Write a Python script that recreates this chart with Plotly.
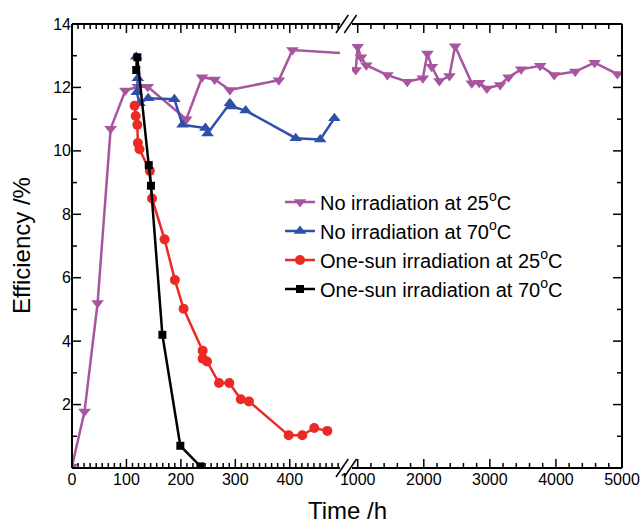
import plotly.graph_objects as go

# ---------------- data ----------------
t_no25 = [0, 23, 47, 71, 98, 121, 139, 210, 239, 262, 290, 380, 405,
          970, 1000, 1050, 1130, 1450, 1750, 1985, 2055, 2121, 2236, 2388,
          2474, 2727, 2838, 2955, 3156, 3282, 3474, 3762, 3974, 4292, 4585, 4930]
e_no25 = [0.05, 1.78, 5.2, 10.7, 11.9, 12.02, 12.02, 11.0, 12.32, 12.25, 11.92, 12.23, 13.18,
          12.55, 13.28, 12.95, 12.7, 12.39, 12.18, 12.29, 13.07, 12.65, 12.2, 12.36,
          13.3, 12.13, 12.15, 11.97, 12.08, 12.32, 12.57, 12.68, 12.39, 12.5, 12.78, 12.42]

t_no70 = [118, 121, 119, 124, 140, 188, 203, 245, 249, 290, 294, 319, 411, 456, 482]
e_no70 = [12.97, 12.29, 11.85, 11.5, 11.66, 11.63, 10.82, 10.72, 10.55, 11.5, 11.4, 11.27, 10.4, 10.36, 11.03]

t_sun25 = [115, 117, 120, 121, 124, 143, 147, 170, 189, 205, 240, 240, 248, 270, 289, 310, 325, 398, 423, 445, 469]
e_sun25 = [11.42, 11.1, 10.82, 10.25, 10.05, 9.37, 8.5, 7.21, 5.93, 5.02, 3.7, 3.45, 3.36, 2.68, 2.68, 2.17, 2.1, 1.03, 1.03, 1.26, 1.17]

t_sun70 = [118, 120, 141, 145, 166, 199, 236]
e_sun70 = [12.55, 12.95, 9.55, 8.9, 4.2, 0.7, 0.05]

names = ["No irradiation at 25<sup>o</sup>C", "No irradiation at 70<sup>o</sup>C",
         "One-sun irradiation at 25<sup>o</sup>C", "One-sun irradiation at 70<sup>o</sup>C"]

x_left_major = [0, 100, 200, 300, 400]
x_right_major = [1000, 2000, 3000, 4000, 5000]
y_ticks = [2, 4, 6, 8, 10, 12, 14]
y_minor = [1, 3, 5, 7, 9, 11, 13]

# ---------------- style ----------------
PURPLE = "#A8559F"
BLUE = "#2F50A8"
RED = "#EC2A25"
BLACK = "#000000"
FONT = "Liberation Sans"

W, H = 643, 529
ML, MR, MT, MB = 72, 21, 24, 61
PW = W - ML - MR
PH = H - MT - MB

def px(x):
    return (x - ML) / PW

def py(y):
    return (H - MB - y) / PH

d1 = px(340)
d2 = px(352)
left_range = [0, (340 - 71.7) / 0.545]
right_range = [1000 - (357.7 - 352) / 0.066, 5000]
y_range = [0, 14]

fig = go.Figure()

def add(t, e, name, color, symbol, size, axes, show):
    fig.add_trace(go.Scatter(
        x=t, y=e, name=name, mode="lines+markers",
        line=dict(color=color, width=2.5),
        marker=dict(symbol=symbol, size=size, color=color),
        xaxis=axes[0], yaxis=axes[1], showlegend=show,
    ))

add(t_no25, e_no25, names[0], PURPLE, "triangle-down", 11, ("x", "y"), True)
add(t_no25, e_no25, names[0], PURPLE, "triangle-down", 11, ("x2", "y2"), False)
add(t_no70, e_no70, names[1], BLUE, "triangle-up", 11, ("x", "y"), True)
add(t_sun25, e_sun25, names[2], RED, "circle", 10, ("x", "y"), True)
add(t_sun70, e_sun70, names[3], BLACK, "square", 8, ("x", "y"), True)

fig.update_layout(
    template="none",
    width=W, height=H,
    margin=dict(l=ML, r=MR, t=MT, b=MB, autoexpand=False),
    plot_bgcolor="white", paper_bgcolor="white",
    font=dict(family=FONT, color="black", size=16),
    xaxis=dict(domain=[0, d1], range=left_range, anchor="y",
               tickmode="array", tickvals=x_left_major),
    xaxis2=dict(domain=[d2, 1], range=right_range, anchor="y2",
                tickmode="array", tickvals=x_right_major),
    yaxis=dict(range=y_range, anchor="x", tickmode="array", tickvals=y_ticks),
    yaxis2=dict(range=y_range, anchor="x2", side="right", tickmode="array",
                tickvals=y_ticks, showticklabels=False),
    legend=dict(x=px(280), y=py(182.5), xanchor="left", yanchor="top",
                bgcolor="rgba(0,0,0,0)", font=dict(size=20)),
    showlegend=True,
)
fig.update_xaxes(showline=False, ticks="", zeroline=False, showgrid=False,
                 tickfont=dict(size=16, color="black"))
fig.update_yaxes(showline=False, ticks="", zeroline=False, showgrid=False,
                 tickfont=dict(size=16, color="black"))

fig.add_annotation(text="Time /h", x=0.5, y=py(526), xref="paper", yref="paper",
                   xanchor="center", yanchor="bottom", showarrow=False, font=dict(size=24))
fig.add_annotation(text="Efficiency /%", x=px(21), y=0.5, xref="paper", yref="paper",
                   xanchor="center", yanchor="middle", textangle=-90, showarrow=False,
                   font=dict(size=24))

# ---------------- frame (plot border, broken at the axis gap) ----------------
def seg(x0, y0, x1, y1, w=2):
    fig.add_shape(type="line", xref="paper", yref="paper", x0=x0, y0=y0, x1=x1, y1=y1,
                  line=dict(color="black", width=w), layer="above")

seg(0, 0, 0, 1)
seg(1, 0, 1, 1)
for yy in (0, 1):
    seg(0, yy, d1, yy)
    seg(d2, yy, 1, yy)

# ---------------- inward tick marks, placed on the library axes ----------------
MAJ, MIN = 9, 5                      # tick lengths in px
px_per_y = PH / (y_range[1] - y_range[0])
px_per_xl = PW * d1 / (left_range[1] - left_range[0])
px_per_xr = PW * (1 - d2) / (right_range[1] - right_range[0])

def tick(xref, yref, x0, y0, x1, y1, w):
    fig.add_shape(type="line", xref=xref, yref=yref, x0=x0, y0=y0, x1=x1, y1=y1,
                  line=dict(color="black", width=w), layer="above")

def x_ticks(xref, yref, vals, length):
    dy = length / px_per_y
    for v in vals:
        tick(xref, yref, v, y_range[0], v, y_range[0] + dy, 1.5)
        tick(xref, yref, v, y_range[1], v, y_range[1] - dy, 1.5)

left_minor = [k * 100 / 9 for k in range(1, 45) if k % 9 and k * 100 / 9 < left_range[1]]
right_minor = [v for v in range(1000, 5000, 200) if v % 1000]
x_ticks("x", "y", x_left_major, MAJ)
x_ticks("x", "y", left_minor, MIN)
x_ticks("x2", "y2", x_right_major, MAJ)
x_ticks("x2", "y2", right_minor, MIN)

for vals, length in ((y_ticks, MAJ), (y_minor, MIN)):
    for v in vals:
        tick("x", "y", left_range[0], v, left_range[0] + length / px_per_xl, v, 1.5)
        tick("x2", "y2", right_range[1], v, right_range[1] - length / px_per_xr, v, 1.5)

# ---------------- axis-break marks ----------------
for yc in (H - MB, MT):
    for x0 in (336, 344.3):
        seg(px(x0), py(yc + 9), px(x0 + 12.3), py(yc - 9), 1.5)

fig.write_html("out.html", post_script="document.body.style.margin='0';",
               config={"displayModeBar": False})
